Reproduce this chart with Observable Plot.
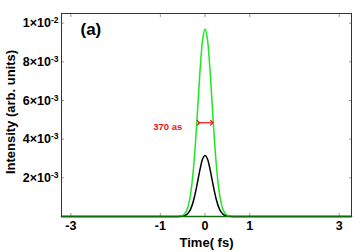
<!DOCTYPE html>
<html><head><meta charset="utf-8">
<script src="https://cdn.jsdelivr.net/npm/d3@7"></script>
<script src="https://cdn.jsdelivr.net/npm/@observablehq/plot@0.6"></script>
<style>
body{margin:0;background:#fff;}
svg{font-family:"Liberation Sans",Arial,sans-serif;}
</style></head>
<body><div id="chart"></div>
<script>
// Time (fs)
const time = [-3.21, -1, -0.6, -0.5, -0.45, -0.4, -0.35, -0.3, -0.25, -0.2, -0.15, -0.1, -0.05, 0, 0.05, 0.1, 0.15, 0.2, 0.25, 0.3, 0.35, 0.4, 0.45, 0.5, 0.6, 1, 3.275];
const green = [0, 0, 0, 0.00006, 0.00016, 0.00038, 0.00081, 0.00156, 0.00273, 0.00431, 0.00615, 0.00792, 0.00922, 0.0097, 0.00922, 0.00792, 0.00615, 0.00431, 0.00273, 0.00156, 0.00081, 0.00038, 0.00016, 0.00006, 0, 0, 0];
const black = [0, 0, 0, 0.00002, 0.00005, 0.00012, 0.00026, 0.00051, 0.00089, 0.0014, 0.002, 0.00257, 0.003, 0.00315, 0.003, 0.00257, 0.002, 0.0014, 0.00089, 0.00051, 0.00026, 0.00012, 0.00005, 0.00002, 0, 0, 0];
const xTicks = [-3, -1, 0, 1, 3];
const yTicks = [0.002, 0.004, 0.006, 0.008, 0.01];
const yTickLabels = ["2×10^-3", "4×10^-3", "6×10^-3", "8×10^-3", "1×10^-2"];
const fwhm = {x1: -0.15, x2: 0.15, y: 0.00485, label: "370 as"};

const gData = time.map((t, i) => ({t, v: green[i]}));
const bData = time.map((t, i) => ({t, v: black[i]}));

const plot = Plot.plot({
  width: 360, height: 252,
  marginLeft: 61, marginRight: 9, marginTop: 13, marginBottom: 36,
  style: {fontFamily: "Liberation Sans, Arial, sans-serif", fontWeight: "bold", fontSize: "12px", color: "#000"},
  x: {domain: [-3.21, 3.275]},
  y: {domain: [0, 0.0105]},
  marks: [
    Plot.axisX({anchor: "bottom", ticks: xTicks, tickSize: -3, tickPadding: 8, tickFormat: d => String(d), stroke: "#999", fill: "#000", fontSize: 12.5, label: null}),
    Plot.axisX({anchor: "top", ticks: xTicks, tickSize: -3, tickFormat: () => "", stroke: "#999", label: null}),
    Plot.axisY({anchor: "left", ticks: yTicks, tickSize: -3, tickPadding: 6, tickFormat: d => yTickLabels[yTicks.indexOf(d)], stroke: "#999", fill: "#000", fontSize: 12.5, label: null}),
    Plot.axisY({anchor: "right", ticks: yTicks, tickSize: -3, tickFormat: () => "", stroke: "#999", label: null}),
    Plot.line(bData, {x: "t", y: "v", stroke: "#000", strokeWidth: 1.5, curve: "catmull-rom"}),
    Plot.line(gData, {x: "t", y: "v", stroke: "#1ee81e", strokeWidth: 1.5, curve: "catmull-rom"}),
    Plot.frame({stroke: "#333"}),
    Plot.ruleY([0], {stroke: "#0c6e0c", strokeWidth: 1.5}),
    Plot.link([fwhm], {x1: "x1", x2: "x2", y1: "y", y2: "y", stroke: "#ee1111", strokeWidth: 1.2, markerStart: "arrow", markerEnd: "arrow"}),
    Plot.text([fwhm], {x: "x1", y: "y", text: "label", fill: "#ee1111", textAnchor: "end", dx: -16, dy: 4, fontSize: 9.5, fontWeight: "bold"}),
    Plot.text(["(a)"], {frameAnchor: "top-left", dx: 19, dy: 9, fontSize: 17, fontWeight: "bold", textAnchor: "start", lineAnchor: "top"}),
    Plot.text(["Intensity (arb. units)"], {frameAnchor: "left", rotate: -90, dx: -51, dy: -3, fontSize: 13, fontWeight: "bold", textAnchor: "middle", lineAnchor: "middle"}),
    Plot.text(["Time( fs)"], {frameAnchor: "bottom", dy: 26, fontSize: 13, fontWeight: "bold", textAnchor: "middle", lineAnchor: "middle"})
  ]
});
document.getElementById("chart").appendChild(plot);

// render exponents as superscripts
d3.select(plot).selectAll("g[aria-label='y-axis tick label'] text").each(function() {
  const s = this.textContent;
  if (!s.includes("^")) return;
  const [base, exp] = s.split("^");
  const t = d3.select(this);
  t.text(null);
  t.append("tspan").text(base);
  t.append("tspan").attr("dy", "-0.45em").attr("font-size", "8.5px").text(exp);
});
</script></body></html>
